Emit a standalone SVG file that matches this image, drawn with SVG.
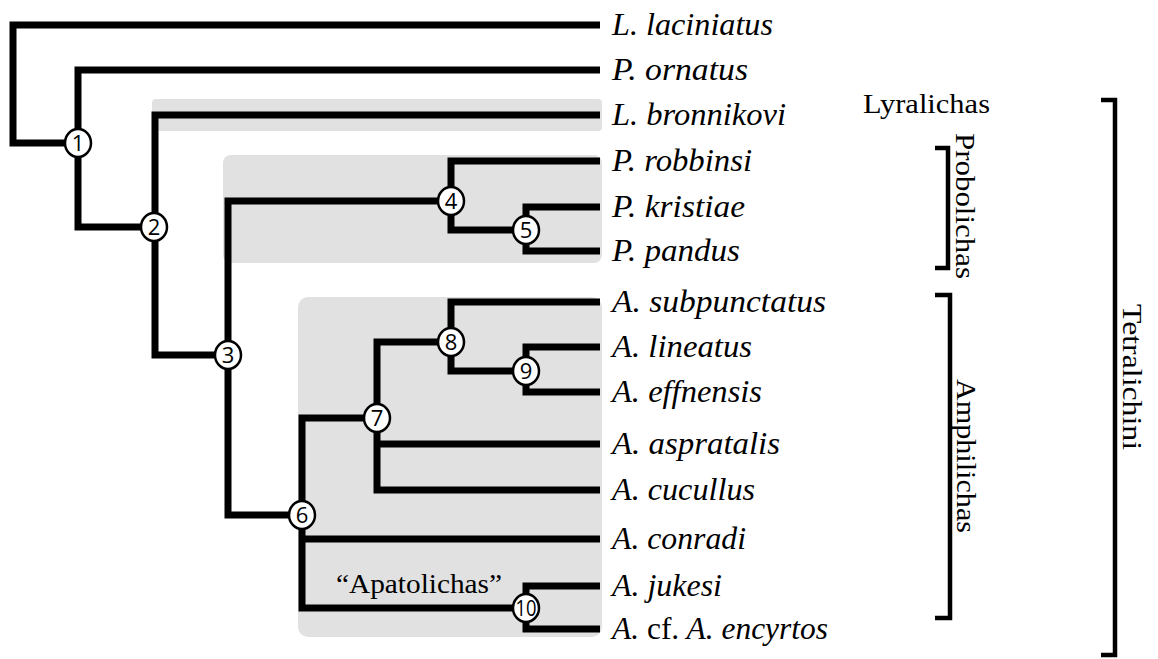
<svg xmlns="http://www.w3.org/2000/svg" width="1158" height="659" viewBox="0 0 1158 659">
<style>
.box{fill:#e1e1e1}
.br{fill:none;stroke:#000;stroke-width:7;stroke-linejoin:miter}
.brk{fill:none;stroke:#000;stroke-width:4.5}
.sp{font-family:"Liberation Serif",serif;font-style:italic;font-size:31px;fill:#000}
.up{font-style:normal}
.cl{font-family:"Liberation Serif",serif;font-size:28px;fill:#000}
.nd ellipse{fill:#fff;stroke:#000;stroke-width:2.5}
.nd text{font-family:"Open Sans","Liberation Sans",sans-serif;font-size:22px;fill:#000;text-anchor:middle}
</style>
<rect width="1158" height="659" fill="#fff"/>
<g id="clade-boxes">
<rect class="box" x="152" y="99" width="450" height="32" rx="4"/>
<rect class="box" x="223" y="155" width="379" height="108" rx="8"/>
<rect class="box" x="298" y="297" width="304" height="340" rx="10"/>
</g>
<g id="connectors">
<path class="br" d="M600,25 H13 V143 H78"/>
<path class="br" d="M600,70 H78 V227 H155"/>
<path class="br" d="M600,115 H155 V355 H228"/>
<path class="br" d="M451,201 H228 V515 H302"/>
<path class="br" d="M600,161 H451 V230 H526"/>
<path class="br" d="M600,207 H526 V251 H600"/>
<path class="br" d="M377,418 H302 V608 H526"/>
<path class="br" d="M302,539 H600"/>
<path class="br" d="M451,342 H377 V490 H600"/>
<path class="br" d="M377,444 H600"/>
<path class="br" d="M600,302 H451 V371 H526"/>
<path class="br" d="M600,347 H526 V392 H600"/>
<path class="br" d="M600,586 H526 V629 H600"/>
</g>
<g id="node-1" class="nd"><ellipse cx="78" cy="143" rx="13" ry="14"/><text x="78" y="151">1</text></g>
<g id="node-2" class="nd"><ellipse cx="154" cy="227" rx="13" ry="14"/><text x="154" y="235">2</text></g>
<g id="node-3" class="nd"><ellipse cx="228" cy="355" rx="13" ry="14"/><text x="228" y="363">3</text></g>
<g id="node-4" class="nd"><ellipse cx="451" cy="201" rx="13" ry="14"/><text x="451" y="209">4</text></g>
<g id="node-5" class="nd"><ellipse cx="526" cy="230" rx="13" ry="14"/><text x="526" y="238">5</text></g>
<g id="node-6" class="nd"><ellipse cx="302" cy="515" rx="13" ry="14"/><text x="302" y="523">6</text></g>
<g id="node-7" class="nd"><ellipse cx="377" cy="418" rx="13" ry="14"/><text x="377" y="426">7</text></g>
<g id="node-8" class="nd"><ellipse cx="451" cy="342" rx="13" ry="14"/><text x="451" y="350">8</text></g>
<g id="node-9" class="nd"><ellipse cx="526" cy="371" rx="13" ry="14"/><text x="526" y="379">9</text></g>
<g id="node-10" class="nd"><ellipse cx="526" cy="608" rx="13" ry="14"/><text x="526" y="616" textLength="21" lengthAdjust="spacingAndGlyphs">10</text></g>
<g id="species-labels">
<text class="sp" x="612" y="35" textLength="161" lengthAdjust="spacingAndGlyphs">L. laciniatus</text>
<text class="sp" x="612" y="80" textLength="136" lengthAdjust="spacingAndGlyphs">P. ornatus</text>
<text class="sp" x="612" y="125" textLength="174" lengthAdjust="spacingAndGlyphs">L. bronnikovi</text>
<text class="sp" x="612" y="171" textLength="140" lengthAdjust="spacingAndGlyphs">P. robbinsi</text>
<text class="sp" x="612" y="217" textLength="133" lengthAdjust="spacingAndGlyphs">P. kristiae</text>
<text class="sp" x="612" y="261" textLength="128" lengthAdjust="spacingAndGlyphs">P. pandus</text>
<text class="sp" x="612" y="312" textLength="214" lengthAdjust="spacingAndGlyphs">A. subpunctatus</text>
<text class="sp" x="612" y="357" textLength="140" lengthAdjust="spacingAndGlyphs">A. lineatus</text>
<text class="sp" x="612" y="402" textLength="150" lengthAdjust="spacingAndGlyphs">A. effnensis</text>
<text class="sp" x="612" y="454" textLength="168" lengthAdjust="spacingAndGlyphs">A. aspratalis</text>
<text class="sp" x="612" y="500" textLength="143" lengthAdjust="spacingAndGlyphs">A. cucullus</text>
<text class="sp" x="612" y="549" textLength="134" lengthAdjust="spacingAndGlyphs">A. conradi</text>
<text class="sp" x="612" y="596" textLength="110" lengthAdjust="spacingAndGlyphs">A. jukesi</text>
<text class="sp" x="612" y="639" textLength="216" lengthAdjust="spacingAndGlyphs">A. <tspan class="up">cf.</tspan> A. encyrtos</text>
</g>
<g id="apatolichas"><text class="cl" x="336" y="593" textLength="166" lengthAdjust="spacingAndGlyphs">“Apatolichas”</text></g>
<g id="lyralichas"><text class="cl" x="863" y="113" textLength="127" lengthAdjust="spacingAndGlyphs">Lyralichas</text></g>
<g id="probolichas">
<path class="brk" d="M935,148 H948 V268 H935"/>
<text class="cl" transform="translate(956,206) rotate(90)" text-anchor="middle" textLength="146" lengthAdjust="spacingAndGlyphs">Probolichas</text>
</g>
<g id="amphilichas">
<path class="brk" d="M935,295 H950 V618 H935"/>
<text class="cl" transform="translate(957,456) rotate(90)" text-anchor="middle" textLength="154" lengthAdjust="spacingAndGlyphs">Amphilichas</text>
</g>
<g id="tetralichini">
<path class="brk" d="M1101,100 H1115 V655 H1101"/>
<text class="cl" transform="translate(1123,377) rotate(90)" text-anchor="middle" textLength="146" lengthAdjust="spacingAndGlyphs">Tetralichini</text>
</g>
</svg>
